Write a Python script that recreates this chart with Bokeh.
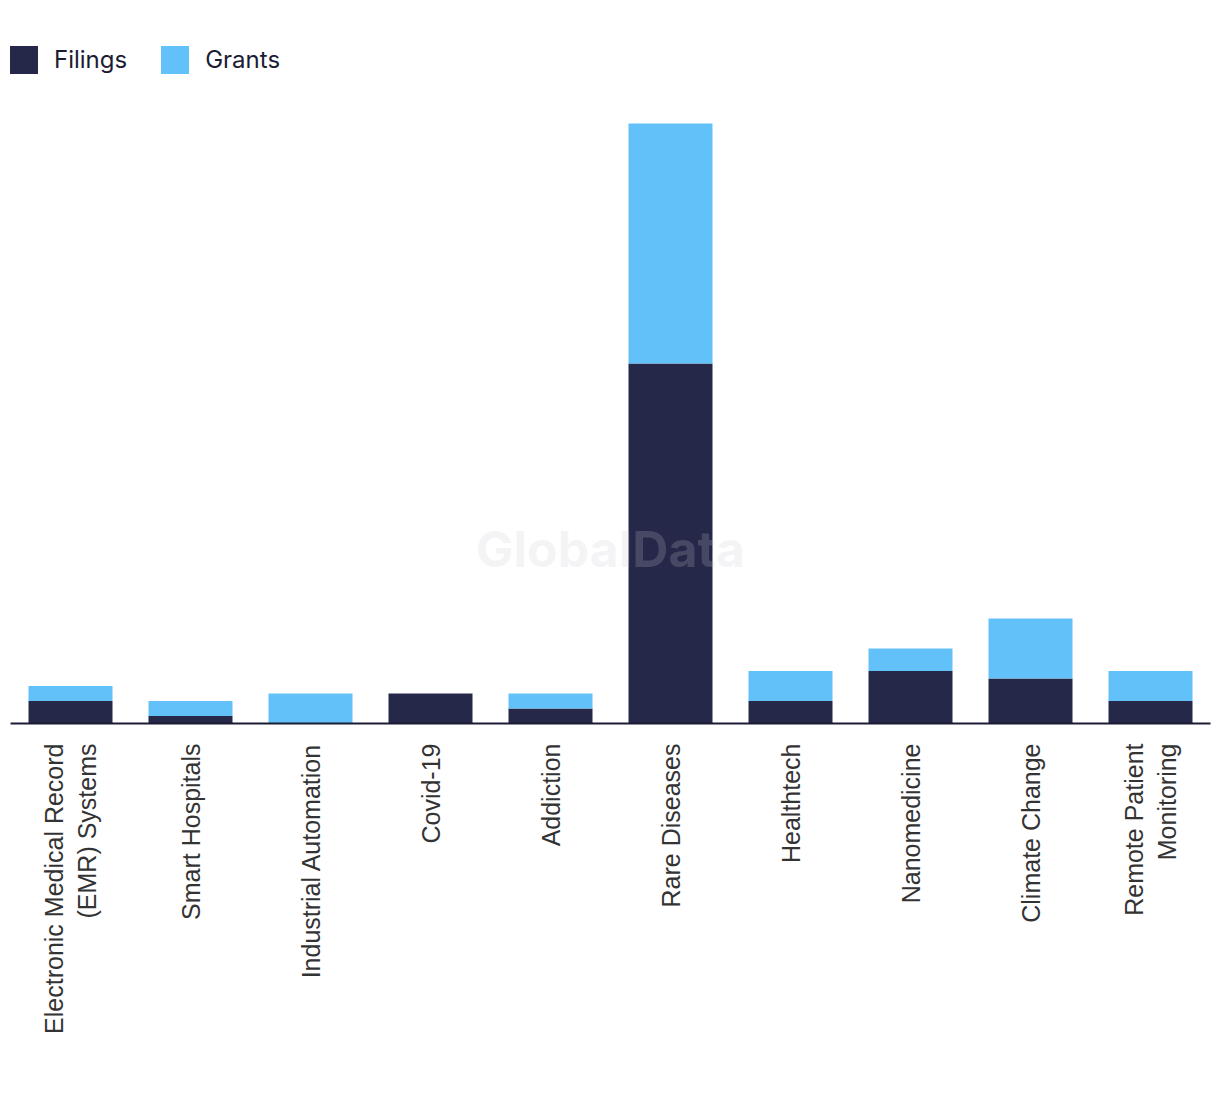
import math
from bokeh.plotting import figure
from bokeh.models import FactorRange, Range1d, Legend, LegendItem, Label, ColumnDataSource
from bokeh.embed import file_html
from bokeh.resources import INLINE

categories = ["Electronic Medical Record\n(EMR) Systems", "Smart Hospitals", "Industrial Automation",
              "Covid-19", "Addiction", "Rare Diseases", "Healthtech", "Nanomedicine",
              "Climate Change", "Remote Patient\nMonitoring"]
filings = [3, 1, 0, 4, 2, 48, 3, 7, 6, 3]
grants = [2, 2, 4, 0, 2, 32, 4, 3, 8, 4]

FILINGS_COLOR = "#262849"
GRANTS_COLOR = "#62C1F9"

src = ColumnDataSource(dict(cat=categories, Filings=filings, Grants=grants))

p = figure(x_range=FactorRange(factors=categories, range_padding=0),
           y_range=Range1d(0, 90.27),
           frame_width=1200, frame_height=677,
           min_border_left=10, min_border_right=2, min_border_top=46, min_border_bottom=340,
           output_backend="svg", toolbar_location=None, y_axis_location=None)

rs = p.vbar_stack(["Filings", "Grants"], x="cat", width=0.7, source=src,
                  color=[FILINGS_COLOR, GRANTS_COLOR], line_color=None)

p.xgrid.grid_line_color = None
p.ygrid.grid_line_color = None
p.outline_line_color = None
p.background_fill_color = "white"
p.border_fill_color = "white"

ax = p.xaxis[0]
ax.major_label_orientation = math.pi / 2
ax.major_tick_line_color = None
ax.minor_tick_line_color = None
ax.axis_line_color = "#1b1c33"
ax.axis_line_width = 2
ax.major_label_text_font = "Liberation Sans"
ax.major_label_text_font_size = "25px"
ax.major_label_text_color = "#333333"
ax.major_label_standoff = 14

legend = Legend(items=[LegendItem(label="Filings", renderers=[rs[0]]),
                       LegendItem(label="Grants", renderers=[rs[1]])],
                location="top_left", orientation="horizontal")
legend.glyph_width = 35
legend.glyph_height = 35
legend.label_text_font = "Inter"
legend.label_text_font_size = "24px"
legend.label_text_color = "#1b1c33"
legend.label_standoff = 13
legend.spacing = 30
legend.padding = 0
legend.margin = -4
legend.border_line_color = None
legend.background_fill_alpha = 0
legend.label_height = 35
p.add_layout(legend)

wm = Label(x=600, y=175, x_units="screen", y_units="screen", text="GlobalData",
           text_font="Inter", text_font_style="bold", text_font_size="50px",
           text_color="#c8c8d2", text_alpha=0.2, text_align="center", text_baseline="middle")
p.add_layout(wm)

open("out.html", "w").write(file_html(p, INLINE))
